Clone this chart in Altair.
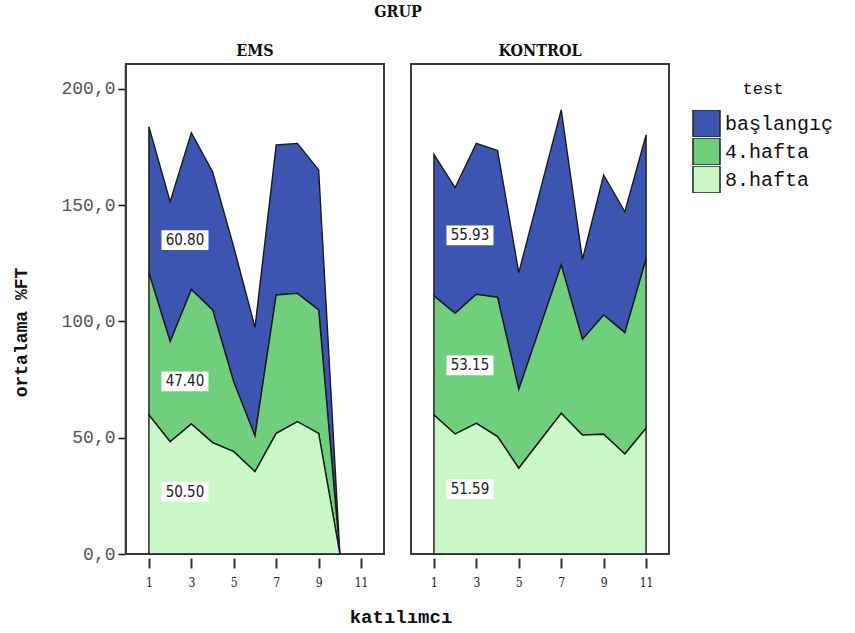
import altair as alt
import pandas as pd

# ---------------- data ----------------
groups = ["EMS", "KONTROL"]
tests = ["başlangıç", "4.hafta", "8.hafta"]          # legend order (top of stack first)
stack_order = {"8.hafta": 0, "4.hafta": 1, "başlangıç": 2}
colors = ["#3c55b0", "#6fcf7c", "#c9f7c8"]

ems_x = [1, 2, 3, 4, 5, 6, 7, 8, 9, 10]
ems_baslangic = [62.8, 60.2, 67.4, 59.4, 58.0, 46.7, 64.5, 64.5, 60.2, 0.0]
ems_hafta4 = [61.2, 43.0, 57.9, 57.1, 30.0, 15.4, 59.5, 55.2, 53.1, 0.0]
ems_hafta8 = [59.8, 48.3, 55.9, 47.9, 44.0, 35.4, 51.9, 56.9, 51.9, 0.0]

kontrol_x = [1, 2, 3, 4, 5, 7, 8, 9, 10, 11]
kontrol_baslangic = [60.9, 54.1, 64.9, 63.1, 50.2, 66.7, 34.4, 60.2, 52.0, 53.2]
kontrol_hafta4 = [51.2, 51.9, 55.5, 59.9, 33.9, 63.8, 41.1, 51.3, 52.2, 72.9]
kontrol_hafta8 = [59.8, 51.6, 56.2, 50.5, 36.9, 60.5, 51.2, 51.5, 43.0, 54.1]

# group means shown as labels (başlangıç, 4.hafta, 8.hafta)
ems_means = [60.80, 47.40, 50.50]
kontrol_means = [55.93, 53.15, 51.59]

x_ticks = [1, 3, 5, 7, 9, 11]
y_ticks = [0, 50, 100, 150, 200]
LABEL_X = 2.7

# ---------------- build table ----------------
rows = []
series = {
    "EMS": (ems_x, [ems_baslangic, ems_hafta4, ems_hafta8], ems_means),
    "KONTROL": (kontrol_x, [kontrol_baslangic, kontrol_hafta4, kontrol_hafta8], kontrol_means),
}
for g, (xs, vals, means) in series.items():
    for t, v in zip(tests, vals):
        for xi, vi in zip(xs, v):
            rows.append(dict(kind="area", grup=g, test=t, order=stack_order[t],
                             katilimci=xi, value=vi, label=""))
    m = dict(zip(tests, means))
    # label anchored at the top of each stacked mean band
    tops = {
        "8.hafta": m["8.hafta"],
        "4.hafta": m["8.hafta"] + m["4.hafta"],
        "başlangıç": m["8.hafta"] + m["4.hafta"] + m["başlangıç"],
    }
    for t in tests:
        rows.append(dict(kind="label", grup=g, test=t, order=stack_order[t],
                         katilimci=LABEL_X, value=tops[t], label=f"{m[t]:.2f}"))
df = pd.DataFrame(rows)

MONO = "Liberation Mono"
SERIF = "DejaVu Serif Condensed"

xenc = alt.X("katilimci:Q", title=None,
             scale=alt.Scale(domain=[-0.08, 12.08], nice=False, zero=False),
             axis=alt.Axis(values=x_ticks, format="d", grid=False, domain=False,
                           tickSize=10, tickWidth=2, tickColor="#333",
                           labelFont=SERIF, labelFontSize=12, labelColor="#222",
                           labelPadding=9))
yscale = alt.Scale(domain=[0, 210.75], nice=False)
yaxis = alt.Axis(values=y_ticks, grid=False, domain=True, domainColor="#111", domainWidth=1.5,
                 tickSize=7, tickWidth=1.5, tickColor="#111",
                 labelExpr="replace(format(datum.value, '.1f'), '.', ',')",
                 labelFont=MONO, labelFontSize=18, labelColor="#555", labelPadding=3,
                 titleFont=MONO, titleFontSize=18, titleFontWeight="bold",
                 titleColor="#111", titlePadding=30, titleY=268)

LABEL_SHIFT = 55

area = alt.Chart().transform_filter("datum.kind == 'area'").mark_area(
    stroke="#1a1a1a", strokeWidth=1.4, strokeJoin="miter", opacity=1
).encode(
    x=xenc,
    y=alt.Y("value:Q", stack="zero", title="ortalama %FT", scale=yscale, axis=yaxis),
    color=alt.Color("test:N", scale=alt.Scale(domain=tests, range=colors),
                    legend=alt.Legend(title="test", orient="right", offset=5, padding=17,
                                      symbolType="square", symbolSize=729,
                                      symbolStrokeColor="#222", symbolStrokeWidth=1.5,
                                      symbolOpacity=1, rowPadding=1, clipHeight=27,
                                      labelFont=MONO, labelFontSize=20, labelColor="#111",
                                      labelOffset=4,
                                      titleFont=MONO, titleFontSize=17, titleFontWeight="normal",
                                      titleColor="#111", titleAnchor="middle",
                                      titlePadding=12)),
    order=alt.Order("order:Q"),
)

box = alt.Chart().transform_filter("datum.kind == 'label'").mark_point(
    shape="M-1,-0.42L1,-0.42L1,0.42L-1,0.42Z", filled=True, fill="white",
    opacity=1, size=2209, strokeWidth=0, yOffset=LABEL_SHIFT
).encode(
    x=alt.X("katilimci:Q", title=None),
    y=alt.Y("value:Q", title="ortalama %FT"),
)

txt = alt.Chart().transform_filter("datum.kind == 'label'").mark_text(
    font="DejaVu Sans Condensed", fontSize=15, color="#222", yOffset=LABEL_SHIFT
).encode(
    x=alt.X("katilimci:Q", title=None),
    y=alt.Y("value:Q", title="ortalama %FT"),
    text="label:N",
)

chart = alt.layer(area, box, txt, data=df).properties(
    width=258, height=490
).facet(
    column=alt.Column("grup:N", sort=groups, title="GRUP",
                      header=alt.Header(titleFont=SERIF, titleFontSize=16, titleFontWeight="bold",
                                        titleColor="#111", titlePadding=13,
                                        labelFont=SERIF, labelFontSize=16, labelFontWeight="bold",
                                        labelColor="#111", labelPadding=4)),
    spacing=25,
).properties(
    title=alt.TitleParams(text="katılımcı", orient="bottom", anchor="middle",
                          font=MONO, fontSize=19, fontWeight="bold", color="#111",
                          offset=20, dx=-31),
    padding={"left": 12, "top": 4, "right": 2, "bottom": 2},
).configure_view(
    stroke="#3a3a3a", strokeWidth=2
)

chart.save("out.html", embed_options={"renderer": "svg", "actions": False})
